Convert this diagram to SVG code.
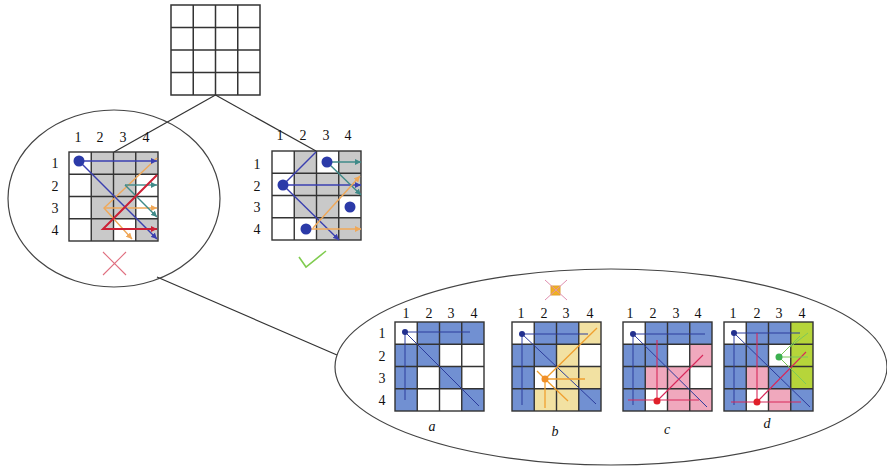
<svg xmlns="http://www.w3.org/2000/svg" width="887" height="468" viewBox="0 0 887 468">
<defs>
<style>
.gl{fill:none;stroke:#333;stroke-width:1.4}
.num{font-family:"Liberation Serif","DejaVu Serif",serif;font-size:14px;fill:#111;text-anchor:middle}
.let{font-family:"Liberation Serif","DejaVu Serif",serif;font-size:14px;font-style:italic;fill:#111;text-anchor:middle}
.gray{fill:#c9c9c9}
.bl{fill:#7190d2}
.ye{fill:#f2e1a2}
.pk{fill:#f0a8bd}
.gr{fill:#b6d53a}
.ell{fill:none;stroke:#444;stroke-width:1.2}
.con{fill:none;stroke:#333;stroke-width:1.2}
.lb{stroke:#3a3fb0;stroke-width:1.4;fill:none}
.lo{stroke:#f0a858;stroke-width:1.4;fill:none}
.lt{stroke:#3f8a88;stroke-width:1.4;fill:none}
.lr{stroke:#cc2035;stroke-width:2;fill:none}
.sb{stroke:#2c3c9c;stroke-width:1;fill:none}
.so{stroke:#f0a030;stroke-width:1.3;fill:none}
.sr{stroke:#d8285a;stroke-width:1.1;fill:none}
.sg{stroke:#7cc85a;stroke-width:1;fill:none}
</style>
<marker id="ab" markerWidth="6" markerHeight="6" refX="6" refY="3" orient="auto" markerUnits="userSpaceOnUse"><path d="M0,0L6,3L0,6z" fill="#3a3fb0"/></marker>
<marker id="ao" markerWidth="6" markerHeight="6" refX="6" refY="3" orient="auto" markerUnits="userSpaceOnUse"><path d="M0,0L6,3L0,6z" fill="#f0a858"/></marker>
<marker id="at" markerWidth="6" markerHeight="6" refX="6" refY="3" orient="auto" markerUnits="userSpaceOnUse"><path d="M0,0L6,3L0,6z" fill="#3f8a88"/></marker>
<marker id="ar" markerWidth="6" markerHeight="6" refX="6" refY="3" orient="auto" markerUnits="userSpaceOnUse"><path d="M0,0L6,3L0,6z" fill="#cc2035"/></marker>
<g id="grid">
<rect x="0" y="0" width="89" height="89" class="gl"/>
<path class="gl" d="M22.25,0V89M44.5,0V89M66.75,0V89M0,22.25H89M0,44.5H89M0,66.75H89"/>
</g>
</defs>
<rect width="887" height="468" fill="#fff"/>

<g id="connectors">
<line class="con" x1="215.5" y1="95" x2="114" y2="152"/>
<line class="con" x1="215.5" y1="95" x2="316" y2="151"/>
<line class="con" x1="157" y1="277" x2="337" y2="355"/>
</g>

<g id="root-board">
<rect x="171" y="5" width="89" height="90" fill="none" stroke="#333" stroke-width="1.5"/>
<path fill="none" stroke="#333" stroke-width="1.5" d="M193.25,5V95M215.5,5V95M237.75,5V95M171,27.5H260M171,50H260M171,72.5H260"/>
</g>

<g id="failed-branch">
<ellipse class="ell" cx="114" cy="198.5" rx="106" ry="88.5"/>
<g class="num">
<text x="78" y="142">1</text><text x="100" y="142">2</text><text x="123" y="142">3</text><text x="146" y="142">4</text>
<text x="55" y="168">1</text><text x="55" y="191">2</text><text x="55" y="213">3</text><text x="55" y="235">4</text>
</g>
<g transform="translate(69,152)">
<rect class="gray" x="22.25" y="0" width="66.75" height="22.25"/>
<rect class="gray" x="22.25" y="22.25" width="44.5" height="44.5"/>
<rect class="gray" x="22.25" y="66.75" width="22.25" height="22.25"/>
<rect class="gray" x="66.75" y="66.75" width="22.25" height="22.25"/>
<use href="#grid"/>
</g>
<polyline class="lo" points="157,158 104,208 132,239" marker-end="url(#ao)"/>
<line class="lo" x1="104" y1="208" x2="157" y2="208" marker-end="url(#ao)"/>
<line class="lt" x1="125" y1="185" x2="157" y2="185" marker-end="url(#at)"/>
<line class="lt" x1="125" y1="185" x2="157" y2="217" marker-end="url(#at)"/>
<line class="lb" x1="79" y1="161" x2="157" y2="161" marker-end="url(#ab)"/>
<line class="lb" x1="79" y1="161" x2="157" y2="239" marker-end="url(#ab)"/>
<polyline class="lr" points="157,175 103,229 157,229" marker-end="url(#ar)"/>
<circle cx="79" cy="161" r="5.5" fill="#2b3aa8"/>
<path d="M103,252L126,275M126,252L103,275" stroke="#e07080" stroke-width="1.1" fill="none"/>
</g>

<g id="solution-branch">
<g class="num">
<text x="280" y="140">1</text><text x="303" y="140">2</text><text x="326" y="140">3</text><text x="348" y="140">4</text>
<text x="257" y="169">1</text><text x="257" y="191">2</text><text x="257" y="212">3</text><text x="257" y="234">4</text>
</g>
<g transform="translate(272,151)">
<rect class="gray" x="22.25" y="0" width="22.25" height="22.25"/>
<rect class="gray" x="66.75" y="0" width="22.25" height="22.25"/>
<rect class="gray" x="22.25" y="22.25" width="66.75" height="22.25"/>
<rect class="gray" x="22.25" y="44.5" width="44.5" height="22.25"/>
<rect class="gray" x="44.5" y="66.75" width="44.5" height="22.25"/>
<use href="#grid"/>
</g>
<line class="lb" x1="283" y1="185" x2="316" y2="152"/>
<line class="lb" x1="283" y1="185" x2="339" y2="240" marker-end="url(#ab)"/>
<line class="lb" x1="283" y1="185" x2="361" y2="185" marker-end="url(#ab)"/>
<line class="lt" x1="327" y1="162" x2="361" y2="162" marker-end="url(#at)"/>
<line class="lt" x1="327" y1="162" x2="361" y2="195" marker-end="url(#at)"/>
<line class="lo" x1="306" y1="229" x2="361" y2="229" marker-end="url(#ao)"/>
<line class="lo" x1="313" y1="228" x2="360" y2="176" marker-end="url(#ao)"/>
<circle cx="327" cy="162" r="5.5" fill="#2b3aa8"/>
<circle cx="283" cy="185" r="5.5" fill="#2b3aa8"/>
<circle cx="350" cy="207" r="5.5" fill="#2b3aa8"/>
<circle cx="306" cy="229" r="5.5" fill="#2b3aa8"/>
<polyline points="299,257 306,267 326,251" fill="none" stroke="#80cc50" stroke-width="1.6"/>
</g>

<g id="detail">
<ellipse class="ell" cx="611" cy="367" rx="276" ry="98"/>

<g id="board-a">
<g class="num">
<text x="406" y="318">1</text><text x="429" y="318">2</text><text x="451" y="318">3</text><text x="474" y="318">4</text>
<text x="382" y="338">1</text><text x="382" y="361">2</text><text x="382" y="383">3</text><text x="382" y="405">4</text>
</g>
<g transform="translate(395,322)">
<rect class="bl" x="22.25" y="0" width="66.75" height="22.25"/>
<rect class="bl" x="0" y="22.25" width="44.5" height="22.25"/>
<rect class="bl" x="0" y="44.5" width="22.25" height="44.5"/>
<rect class="bl" x="44.5" y="44.5" width="22.25" height="22.25"/>
<rect class="bl" x="66.75" y="66.75" width="22.25" height="22.25"/>
<use href="#grid"/>
</g>
<path class="sb" d="M405,332H470M405,332V400M405,332L479,406"/>
<circle cx="405" cy="332" r="3" fill="#22308f"/>
<text class="let" x="432" y="431">a</text>
</g>

<g id="board-b">
<rect x="551" y="286" width="9" height="9" fill="#f0b020" stroke="#e0a030" stroke-width="1"/>
<path d="M545,280L567,300M567,280L545,300" stroke="#e090b0" stroke-width="1" fill="none"/>
<g class="num">
<text x="521" y="318">1</text><text x="544" y="318">2</text><text x="566" y="318">3</text><text x="590" y="318">4</text>
</g>
<g transform="translate(512,322)">
<rect class="bl" x="22.25" y="0" width="44.5" height="22.25"/>
<rect class="ye" x="66.75" y="0" width="22.25" height="22.25"/>
<rect class="bl" x="0" y="22.25" width="44.5" height="22.25"/>
<rect class="ye" x="44.5" y="22.25" width="22.25" height="22.25"/>
<rect class="bl" x="0" y="44.5" width="22.25" height="44.5"/>
<rect class="ye" x="44.5" y="44.5" width="44.5" height="22.25"/>
<rect class="ye" x="22.25" y="66.75" width="44.5" height="22.25"/>
<rect class="bl" x="66.75" y="66.75" width="22.25" height="22.25"/>
<use href="#grid"/>
</g>
<path class="sb" d="M522,334H588M522,334V405M522,334L596,404"/>
<path class="so" d="M545,379H585M545,379V408M545,379L597,328M545,379L568,401M545,379L537,371"/>
<circle cx="522" cy="334" r="3" fill="#22308f"/>
<circle cx="545" cy="379" r="3.5" fill="#f09028"/>
<text class="let" x="555" y="436">b</text>
</g>

<g id="board-c">
<g class="num">
<text x="630" y="318">1</text><text x="653" y="318">2</text><text x="676" y="318">3</text><text x="698" y="318">4</text>
</g>
<g transform="translate(623,322)">
<rect class="bl" x="22.25" y="0" width="66.75" height="22.25"/>
<rect class="bl" x="0" y="22.25" width="44.5" height="22.25"/>
<rect class="pk" x="66.75" y="22.25" width="22.25" height="22.25"/>
<rect class="bl" x="0" y="44.5" width="22.25" height="44.5"/>
<rect class="pk" x="22.25" y="44.5" width="44.5" height="22.25"/>
<rect class="pk" x="44.5" y="66.75" width="44.5" height="22.25"/>
<use href="#grid"/>
</g>
<path class="sb" d="M633,334H705M633,334V405M633,334L707,407"/>
<path class="sr" d="M657,401V340M628,400H699M657,401L703,355"/>
<circle cx="633" cy="334" r="3" fill="#22308f"/>
<circle cx="657" cy="401" r="3.5" fill="#e0202a"/>
<text class="let" x="667" y="434">c</text>
</g>

<g id="board-d">
<g class="num">
<text x="733" y="318">1</text><text x="757" y="318">2</text><text x="779" y="318">3</text><text x="802" y="318">4</text>
</g>
<g transform="translate(724,322)">
<rect class="bl" x="22.25" y="0" width="44.5" height="22.25"/>
<rect class="gr" x="66.75" y="0" width="22.25" height="66.75"/>
<rect class="bl" x="0" y="22.25" width="44.5" height="22.25"/>
<rect class="bl" x="0" y="44.5" width="22.25" height="44.5"/>
<rect class="pk" x="22.25" y="44.5" width="22.25" height="22.25"/>
<rect class="bl" x="44.5" y="44.5" width="22.25" height="22.25"/>
<rect class="pk" x="44.5" y="66.75" width="22.25" height="22.25"/>
<rect class="bl" x="66.75" y="66.75" width="22.25" height="22.25"/>
<use href="#grid"/>
</g>
<path class="sb" d="M734,333H800M734,333V405M734,333L810,407"/>
<path class="sr" d="M757,402V333M731,402H801M757,402L806,352"/>
<path class="sg" d="M779,357L800,336M779,357H808M779,357L806,384M790,347L808,333"/>
<circle cx="734" cy="333" r="3" fill="#22308f"/>
<circle cx="757" cy="402" r="3.5" fill="#e0202a"/>
<circle cx="779" cy="357" r="3.5" fill="#3cb050"/>
<text class="let" x="767" y="428">d</text>
</g>
</g>
</svg>
